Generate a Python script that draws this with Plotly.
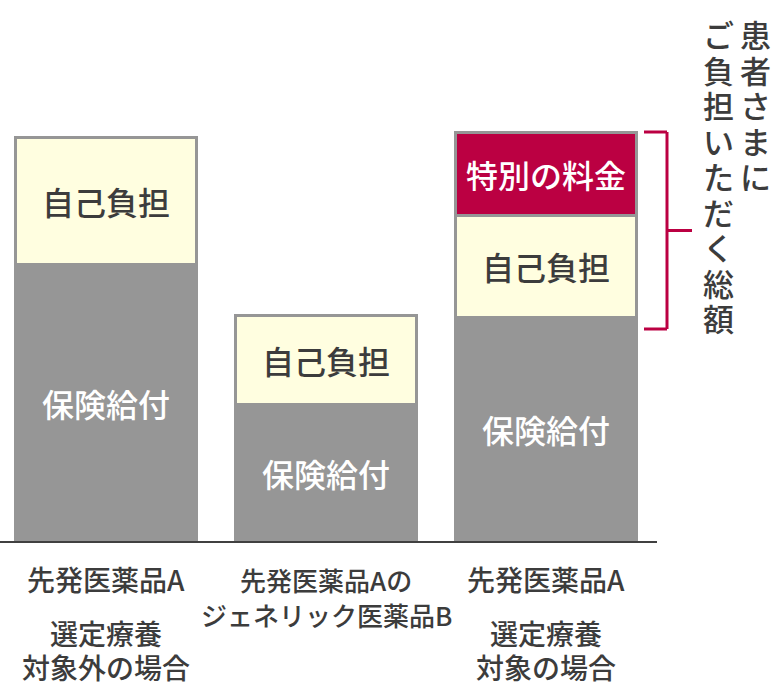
import plotly.graph_objects as go

# ---- data (arbitrary units) ----
categories = [0, 1, 2]
cat_lines = [
    ["先発医薬品A", "選定療養", "対象外の場合"],
    ["先発医薬品Aの", "ジェネリック医薬品B"],
    ["先発医薬品A", "選定療養", "対象の場合"],
]
insurance = [277, 137, 224]          # 保険給付
copay = [127, 89, 102]               # 自己負担
special = [None, None, 83]           # 特別の料金
bracket_label_right = "患者さまに"
bracket_label_left = "ご負担いただく総額"

FONT = "Noto Sans CJK JP"
TXT = "#3c3c3c"
GRAY = "#969696"
YELLOW = "#FFFEE0"
RED = "#BB0042"

W, H = 780, 700
L, R, T, B = 0, 123, 20, 159
PW, PH = W - L - R, H - T - B
YMAX = PH  # one unit per pixel

def px2paper_x(px):
    return (px - L) / PW

def py2paper_y(py):
    return (H - B - py) / PH

bar_w = 0.827
common = dict(x=categories, width=bar_w, textposition="inside",
              insidetextanchor="middle", textangle=0, constraintext="none",
              hoverinfo="skip")

fig = go.Figure()
fig.add_trace(go.Bar(y=insurance, text=["保険給付"] * 3,
                     marker=dict(color=GRAY, line=dict(color=GRAY, width=3)),
                     textfont=dict(family=FONT, size=32, color="white", weight=500), **common))
fig.add_trace(go.Bar(y=copay, text=["自己負担"] * 3,
                     marker=dict(color=YELLOW, line=dict(color=GRAY, width=3)),
                     textfont=dict(family=FONT, size=32, color=TXT, weight=500), **common))
fig.add_trace(go.Bar(y=special, text=["", "", "特別の料金"],
                     marker=dict(color=RED, line=dict(color=GRAY, width=3)),
                     textfont=dict(family=FONT, size=32, color="white", weight=500), **common))

# category label layout: pixel centre of each line, and font size
line_y = {3: [579, 633, 666.5], 2: [579, 614]}
line_size = {3: 28, 2: 26}

annotations = []
for i, c in enumerate(categories):
    lines = cat_lines[i]
    n = len(lines)
    for text, cy in zip(lines, line_y[n]):
        annotations.append(dict(x=c, xref="x", y=py2paper_y(cy), yref="paper",
                                yanchor="middle", text=text, showarrow=False,
                                font=dict(family=FONT, size=line_size[n], color=TXT, weight=500)))

# vertical text: one annotation per column, one character per line
pitch = 35.5
base_size = pitch / 1.3
for col_text, cx in ((bracket_label_right, 755), (bracket_label_left, 718)):
    n = len(col_text)
    cy = 33 + pitch * (n - 1) / 2
    txt = "<br>".join("<span style='font-size:31px'>%s</span>" % ch for ch in col_text)
    annotations.append(dict(x=px2paper_x(cx), xref="paper", y=py2paper_y(cy),
                            yref="paper", xanchor="center", yanchor="middle",
                            text=txt, showarrow=False, borderpad=0,
                            font=dict(family=FONT, size=base_size, color=TXT, weight=500)))

# bracket
top_val = insurance[2] + copay[2] + special[2]
bot_val = H - B - 329
mid_val = (top_val + bot_val) / 2
vx = px2paper_x(667)
shapes = [
    dict(type="line", xref="paper", yref="y", x0=vx, x1=vx, y0=bot_val, y1=top_val,
         line=dict(color=RED, width=3)),
    dict(type="line", xref="paper", yref="y", x0=px2paper_x(644), x1=vx, y0=top_val, y1=top_val,
         line=dict(color=RED, width=3)),
    dict(type="line", xref="paper", yref="y", x0=px2paper_x(644), x1=vx, y0=bot_val, y1=bot_val,
         line=dict(color=RED, width=3)),
    dict(type="line", xref="paper", yref="y", x0=vx, x1=px2paper_x(692), y0=mid_val, y1=mid_val,
         line=dict(color=RED, width=3)),
]

x0 = -106 / 220
fig.update_layout(
    width=W, height=H, margin=dict(l=L, r=R, t=T, b=B),
    barmode="stack", showlegend=False,
    paper_bgcolor="white", plot_bgcolor="white",
    xaxis=dict(range=[x0, x0 + PW / 220], showgrid=False, zeroline=False,
               showticklabels=False, ticks="", showline=True,
               linecolor="#404040", linewidth=2, fixedrange=True),
    yaxis=dict(range=[0, YMAX], visible=False, fixedrange=True),
    annotations=annotations, shapes=shapes,
    font=dict(family=FONT),
)

fig.write_html("out.html", config={"displayModeBar": False},
               post_script="document.body.style.margin='0';")
